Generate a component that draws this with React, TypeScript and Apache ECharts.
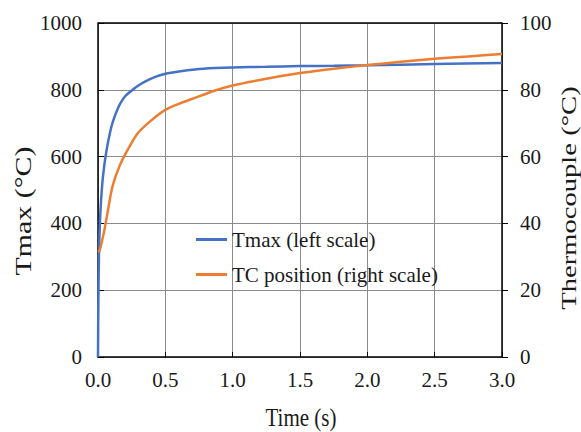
import React, { useEffect, useRef } from "react";
import * as echarts from "echarts";

const timeTmax = [0, 0.003, 0.0075, 0.013, 0.02, 0.032, 0.045, 0.058, 0.07, 0.083, 0.1, 0.12, 0.145, 0.17, 0.2, 0.257, 0.3, 0.345, 0.42, 0.5, 0.6, 0.72, 0.87, 1.0, 1.25, 1.5, 1.75, 2.0, 2.5, 3.0];
const tmaxValues = [0, 180, 310, 390, 450, 520, 568, 605, 633, 660, 690, 716, 742, 762, 780, 800, 813, 824, 838, 848, 855, 861, 865, 867, 869, 871, 872, 873.5, 877, 880];

const timeTC = [0, 0.01, 0.02, 0.03, 0.045, 0.07, 0.107, 0.158, 0.22, 0.295, 0.4, 0.5, 0.6, 0.72, 0.87, 1.0, 1.25, 1.5, 1.75, 2.0, 2.25, 2.5, 2.75, 3.0];
const tcValues = [31.5, 31.8, 33, 34.8, 37.5, 43, 51, 57, 62, 67, 71, 74, 75.8, 77.6, 79.8, 81.3, 83.3, 85, 86.3, 87.4, 88.4, 89.3, 90, 90.7];

const xTicks = [0, 0.5, 1.0, 1.5, 2.0, 2.5, 3.0];
const leftTicks = [0, 200, 400, 600, 800, 1000];
const rightTicks = [0, 20, 40, 60, 80, 100];

const seriesNames = ["Tmax (left scale)", "TC position (right scale)"];
const xTitle = "Time (s)";
const leftTitle = "Tmax (°C)";
const rightTitle = "Thermocouple (°C)";

const FONT = "Liberation Serif";
const TXT = "#1a1a1a";

export default function App() {
  const ref = useRef<HTMLDivElement>(null);
  useEffect(() => {
    if (!ref.current) return;
    const chart = echarts.init(ref.current, undefined, { renderer: "svg" });
    const gridLine = { show: true, lineStyle: { color: "#8c8c8c", width: 1 } };
    const label = { fontFamily: FONT, fontSize: 21, color: TXT };
    chart.setOption({
      animation: false,
      backgroundColor: "#ffffff",
      textStyle: { fontFamily: FONT, fontSize: 21 },
      grid: { left: 98, right: 79, top: 23, bottom: 75, containLabel: false },
      legend: {
        orient: "vertical",
        left: 196,
        top: 229,
        padding: 0,
        itemWidth: 31,
        itemHeight: 3,
        itemGap: 14,
        icon: "rect",
        textStyle: { ...label },
        data: seriesNames,
      },
      xAxis: {
        type: "value",
        min: xTicks[0],
        max: xTicks[xTicks.length - 1],
        interval: 0.5,
        axisLine: { show: true, onZero: false, lineStyle: { color: "#000", width: 1.5 } },
        axisTick: { show: true, inside: true, length: 5, lineStyle: { color: "#000" } },
        splitLine: gridLine,
        axisLabel: { ...label, margin: 12, formatter: (v: number) => v.toFixed(1) },
      },
      yAxis: [
        {
          type: "value",
          min: leftTicks[0],
          max: leftTicks[leftTicks.length - 1],
          interval: 200,
          position: "left",
          axisLine: { show: true, lineStyle: { color: "#000", width: 1.5 } },
          axisTick: { show: true, inside: true, length: 6, lineStyle: { color: "#000" } },
          splitLine: gridLine,
          axisLabel: { ...label, margin: 16, formatter: (v: number) => String(v) },
        },
        {
          type: "value",
          min: rightTicks[0],
          max: rightTicks[rightTicks.length - 1],
          interval: 20,
          position: "right",
          axisLine: { show: true, lineStyle: { color: "#000", width: 1.5 } },
          axisTick: { show: true, inside: false, length: 6, lineStyle: { color: "#000" } },
          splitLine: { show: false },
          axisLabel: { ...label, margin: 18, formatter: (v: number) => String(v) },
        },
      ],
      graphic: [
        {
          type: "line",
          shape: { x1: 98, y1: 23, x2: 502, y2: 23 },
          style: { stroke: "#000", lineWidth: 1.5 },
          z: 10,
        },
        {
          type: "text",
          x: 301,
          y: 417,
          scaleY: 1.2,
          style: { text: xTitle, font: `21px ${FONT}`, fill: TXT, align: "center", verticalAlign: "middle" },
        },
        {
          type: "text",
          x: 23,
          y: 211,
          rotation: Math.PI / 2,
          scaleX: 1.3,
          style: { text: leftTitle, font: `23px ${FONT}`, fill: TXT, align: "center", verticalAlign: "middle" },
        },
        {
          type: "text",
          x: 569,
          y: 198,
          rotation: Math.PI / 2,
          scaleX: 1.3,
          style: { text: rightTitle, font: `22px ${FONT}`, fill: TXT, align: "center", verticalAlign: "middle" },
        },
      ],
      series: [
        {
          name: seriesNames[0],
          type: "line",
          yAxisIndex: 0,
          data: timeTmax.map((t, i) => [t, tmaxValues[i]]),
          showSymbol: false,
          smooth: 0.25,
          color: "#4472C4",
          lineStyle: { color: "#4472C4", width: 2.5 },
        },
        {
          name: seriesNames[1],
          type: "line",
          yAxisIndex: 1,
          data: timeTC.map((t, i) => [t, tcValues[i]]),
          showSymbol: false,
          smooth: 0.25,
          color: "#ED7D31",
          lineStyle: { color: "#ED7D31", width: 2.5 },
        },
      ],
    });
    return () => chart.dispose();
  }, []);
  return <div ref={ref} style={{ width: 581, height: 432, position: "absolute", left: 0, top: 0 }} />;
}
